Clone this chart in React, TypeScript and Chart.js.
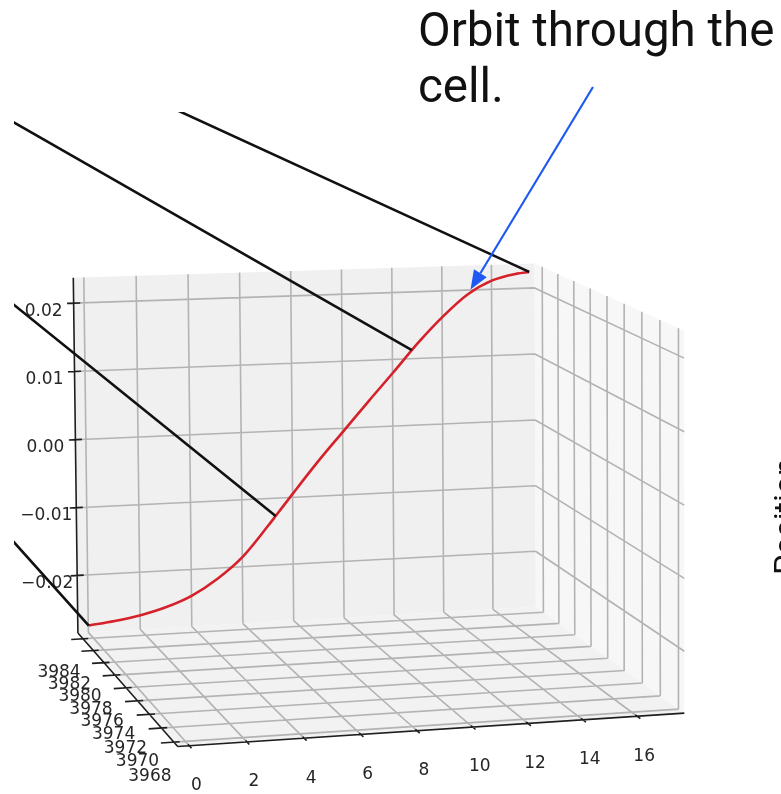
import React, { useEffect, useRef } from "react";
import { Chart, registerables } from "chart.js";

Chart.register(...registerables);

const CANVAS_W = 781;
const CANVAS_H = 794;

// ---------------- data ----------------
// orbit (red curve): x position along the cell, z displacement, at constant cell y
const orbitX = [0, 1, 2, 3, 4, 5, 6, 7, 7.3, 8, 9, 10, 11, 12, 12.75, 13, 14, 15, 16, 17, 17.5];
const orbitZ = [
  -0.0274, -0.02695, -0.0263, -0.0253, -0.0238, -0.0215, -0.0184, -0.014, -0.0126, -0.0093, -0.0047,
  -0.0004, 0.0039, 0.0081, 0.01135, 0.0124, 0.0162, 0.0194, 0.0214, 0.0223, 0.0225,
];
const orbitY = 3984.9;

// black connectors leave the orbit at these samples and run toward +y
const connectorIndex = [0, 8, 14, 20];
const connectorEndY = 4600;

// axes
const xTicks = [0, 2, 4, 6, 8, 10, 12, 14, 16];
const yTicks = [3968, 3970, 3972, 3974, 3976, 3978, 3980, 3982, 3984];
const zTicks = [-0.02, -0.01, 0, 0.01, 0.02];
const xTickLabels = ["0", "2", "4", "6", "8", "10", "12", "14", "16"];
const yTickLabels = ["3968", "3970", "3972", "3974", "3976", "3978", "3980", "3982", "3984"];
const zTickLabels = ["\u22120.02", "\u22120.01", "0.00", "0.01", "0.02"];

const xLim = [-0.4, 17.75];
const yLim = [3967.4, 3985.0];
const zLim = [-0.0285, 0.0237];

const titleLines = ["Orbit through the", "cell."];
const sideText = "Position";

// ---------------- view (camera calibration of the 3D box) ----------------
const [X0, X1] = xLim;
const [Y0, Y1] = yLim;
const [Z0, Z1] = zLim;
const viewAnchors: number[][] = [
  [X0, Y1, Z0, 78, 632],
  [X1, Y1, Z0, 535, 607],
  [X1, Y1, Z1, 536, 266],
  [X0, Y1, Z1, 73, 279],
  [X1, Y0, Z1, 684, 329],
  [X1, Y0, Z0, 684, 714],
  [X0, Y0, Z0, 178, 747],
  [0, Y1, 0.02, 84, 302],
  [16, Y1, 0.02, 491, 289],
  [0, Y0, Z0, 190, 746],
  [16, Y0, Z0, 638, 717],
  [X1, Y0, 0.02, 684, 357],
  [X1, Y0, -0.02, 684, 650],
  [X0, Y1, -0.02, 77, 575],
  [X0, Y1, 0, 75, 440],
];
const yVanishing = [-758, -324];
const vanishWeight = 2;

const nx = (x: number) => (x - X0) / (X1 - X0);
const ny = (y: number) => (y - Y0) / (Y1 - Y0);
const nz = (z: number) => (z - Z0) / (Z1 - Z0);

function solveLinear(M: number[][], b: number[]): number[] {
  const n = b.length;
  const A = M.map((r, i) => [...r, b[i]]);
  for (let c = 0; c < n; c++) {
    let p = c;
    for (let r = c + 1; r < n; r++) if (Math.abs(A[r][c]) > Math.abs(A[p][c])) p = r;
    const tmp = A[c];
    A[c] = A[p];
    A[p] = tmp;
    for (let r = 0; r < n; r++) {
      if (r === c) continue;
      const f = A[r][c] / A[c][c];
      for (let k = c; k <= n; k++) A[r][k] -= f * A[c][k];
    }
  }
  return A.map((r, i) => r[n] / r[i]);
}

function fitCamera(): number[] {
  const S = 1000;
  const rows: number[][] = [];
  const rhs: number[] = [];
  for (const [x, y, z, px, py] of viewAnchors) {
    const u = nx(x), v = ny(y), w = nz(z);
    const X = px / S, Y = py / S;
    rows.push([u, v, w, 1, 0, 0, 0, 0, -X * u, -X * v, -X * w]);
    rhs.push(X);
    rows.push([0, 0, 0, 0, u, v, w, 1, -Y * u, -Y * v, -Y * w]);
    rhs.push(Y);
  }
  const k = vanishWeight;
  const vx = yVanishing[0] / S, vy = yVanishing[1] / S;
  rows.push([0, k, 0, 0, 0, 0, 0, 0, 0, -k * vx, 0]);
  rhs.push(0);
  rows.push([0, 0, 0, 0, 0, k, 0, 0, 0, -k * vy, 0]);
  rhs.push(0);
  const n = 11;
  const M = Array.from({ length: n }, () => new Array(n).fill(0));
  const b = new Array(n).fill(0);
  rows.forEach((r, i) => {
    for (let a = 0; a < n; a++) {
      b[a] += r[a] * rhs[i];
      for (let c = 0; c < n; c++) M[a][c] += r[a] * r[c];
    }
  });
  return solveLinear(M, b);
}

const CAM = fitCamera();

type Pt = { x: number; y: number };
function P(x: number, y: number, z: number): Pt {
  const u = nx(x), v = ny(y), w = nz(z);
  const p = CAM;
  const d = p[8] * u + p[9] * v + p[10] * w + 1;
  return {
    x: (1000 * (p[0] * u + p[1] * v + p[2] * w + p[3])) / d,
    y: (1000 * (p[4] * u + p[5] * v + p[6] * w + p[7])) / d,
  };
}

function joinSegments(list: Pt[][]): Pt[] {
  const out: Pt[] = [];
  list.forEach((s, i) => {
    if (i) out.push({ x: NaN, y: NaN });
    out.push(...s);
  });
  return out;
}

// grid segments
function gridSegments(): Pt[][] {
  const s: Pt[][] = [];
  // back wall (y = Y1)
  xTicks.forEach((x) => s.push([P(x, Y1, Z0), P(x, Y1, Z1)]));
  zTicks.forEach((z) => s.push([P(X0, Y1, z), P(X1, Y1, z)]));
  // right wall (x = X1)
  yTicks.forEach((y) => s.push([P(X1, y, Z0), P(X1, y, Z1)]));
  zTicks.forEach((z) => s.push([P(X1, Y0, z), P(X1, Y1, z)]));
  // floor (z = Z0)
  xTicks.forEach((x) => s.push([P(x, Y0, Z0), P(x, Y1, Z0)]));
  yTicks.forEach((y) => s.push([P(X0, y, Z0), P(X1, y, Z0)]));
  return s;
}

function axisSegments(): Pt[][] {
  const s: Pt[][] = [];
  s.push([P(X0, Y1, Z0), P(X0, Y1, Z1)]); // z axis
  s.push([P(X0, Y1, Z0), P(X0, Y0, Z0)]); // y axis
  s.push([P(X0, Y0, Z0), P(X1, Y0, Z0)]); // x axis
  zTicks.forEach((z) => s.push([P(X0 - 0.25, Y1, z), P(X0 + 0.25, Y1, z)]));
  yTicks.forEach((y) => s.push([P(X0 - 0.45, y, Z0), P(X0 + 0.2, y, Z0)]));
  xTicks.forEach((x) => s.push([P(x, Y0 - 0.35, Z0), P(x, Y0 + 0.2, Z0)]));
  return s;
}

const orbitPts = orbitX.map((x, i) => P(x, orbitY, orbitZ[i]));
const connectorSegs = connectorIndex.map((i) => [
  P(orbitX[i], orbitY, orbitZ[i]),
  P(orbitX[i], connectorEndY, orbitZ[i]),
]);

const CLIP_LEFT = 14;
const CLIP_TOP = 112;

const scenePlugin = {
  id: "scene3d",
  beforeDatasetsDraw(chart: any) {
    const ctx: CanvasRenderingContext2D = chart.ctx;
    const sx = chart.scales.x, sy = chart.scales.y;
    const px = (p: Pt) => [sx.getPixelForValue(p.x), sy.getPixelForValue(p.y)];
    const poly = (pts: Pt[], color: string) => {
      ctx.beginPath();
      pts.forEach((p, i) => {
        const [a, b] = px(p);
        if (i) ctx.lineTo(a, b);
        else ctx.moveTo(a, b);
      });
      ctx.closePath();
      ctx.fillStyle = color;
      ctx.fill();
    };
    ctx.save();
    poly([P(X0, Y1, Z0), P(X1, Y1, Z0), P(X1, Y1, Z1), P(X0, Y1, Z1)], "#f0f0f0");
    poly([P(X1, Y1, Z0), P(X1, Y0, Z0), P(X1, Y0, Z1), P(X1, Y1, Z1)], "#f7f7f7");
    poly([P(X0, Y0, Z0), P(X1, Y0, Z0), P(X1, Y1, Z0), P(X0, Y1, Z0)], "#f2f2f2");

    ctx.fillStyle = "#262626";
    ctx.font = '17px "DejaVu Sans"';
    ctx.textAlign = "center";
    ctx.textBaseline = "middle";
    xTicks.forEach((x, i) => {
      const [a, b] = px(P(x, Y0, Z0));
      ctx.fillText(xTickLabels[i], a + 7, b + 40);
    });
    yTicks.forEach((y, i) => {
      const [a, b] = px(P(X0, y, Z0));
      ctx.fillText(yTickLabels[i], a - 24, b + 34);
    });
    zTicks.forEach((z, i) => {
      const [a, b] = px(P(X0, Y1, z));
      ctx.fillText(zTickLabels[i], a - 30, b + 8);
    });
    ctx.restore();
  },
  afterDraw(chart: any) {
    const ctx: CanvasRenderingContext2D = chart.ctx;
    const sx = chart.scales.x, sy = chart.scales.y;
    ctx.save();
    // title annotation
    ctx.fillStyle = "#111";
    ctx.font = '47.5px Roboto';
    ctx.textAlign = "left";
    ctx.textBaseline = "alphabetic";
    ctx.fillText(titleLines[0], 418, 46);
    ctx.fillText(titleLines[1], 418, 102);

    // arrow from the text to the orbit
    const target = orbitPts[17];
    const tx = sx.getPixelForValue(target.x) + 3;
    const ty = sy.getPixelForValue(target.y) - 5;
    const fx = 593, fy = 87;
    const ang = Math.atan2(ty - fy, tx - fx);
    const headLen = 19, headHalf = 7.5;
    const bx = tx - headLen * Math.cos(ang), by = ty - headLen * Math.sin(ang);
    ctx.strokeStyle = "#1e5af2";
    ctx.fillStyle = "#1e5af2";
    ctx.lineWidth = 2.2;
    ctx.beginPath();
    ctx.moveTo(fx, fy);
    ctx.lineTo(bx, by);
    ctx.stroke();
    ctx.beginPath();
    ctx.moveTo(tx, ty);
    ctx.lineTo(bx + headHalf * Math.sin(ang), by - headHalf * Math.cos(ang));
    ctx.lineTo(bx - headHalf * Math.sin(ang), by + headHalf * Math.cos(ang));
    ctx.closePath();
    ctx.fill();

    // rotated side label, cut by the right edge
    ctx.translate(796, 575);
    ctx.rotate(-Math.PI / 2);
    ctx.fillStyle = "#111";
    ctx.font = '32px Roboto';
    ctx.textAlign = "left";
    ctx.textBaseline = "alphabetic";
    ctx.fillText(sideText, 0, 0);
    ctx.restore();
  },
};

export default function App() {
  const ref = useRef<HTMLCanvasElement>(null);
  useEffect(() => {
    const canvas = ref.current;
    if (!canvas) return;
    const chart = new Chart(canvas, {
      type: "scatter",
      data: {
        datasets: [
          {
            label: "grid",
            data: joinSegments(gridSegments()),
            showLine: true,
            borderColor: "#b3b3b3",
            borderWidth: 1.6,
            pointRadius: 0,
            order: 5,
          },
          {
            label: "axes",
            data: joinSegments(axisSegments()),
            showLine: true,
            borderColor: "#1e1e1e",
            borderWidth: 1.6,
            pointRadius: 0,
            order: 4,
          },
          {
            label: "orbit",
            data: orbitPts,
            showLine: true,
            borderColor: "#d6212b",
            borderWidth: 2.6,
            pointRadius: 0,
            cubicInterpolationMode: "monotone",
            order: 2,
          },
          {
            label: "connectors",
            data: joinSegments(connectorSegs),
            showLine: true,
            borderColor: "#111111",
            borderWidth: 2.6,
            pointRadius: 0,
            clip: 0,
            order: 1,
          },
        ] as any,
      },
      options: {
        animation: false,
        responsive: false,
        events: [],
        layout: { padding: { left: CLIP_LEFT, top: CLIP_TOP, right: 0, bottom: 0 } },
        plugins: { legend: { display: false }, tooltip: { enabled: false }, title: { display: false } },
        scales: {
          x: { type: "linear", min: CLIP_LEFT, max: CANVAS_W, bounds: "data", display: false },
          y: { type: "linear", min: CLIP_TOP, max: CANVAS_H, reverse: true, bounds: "data", display: false },
        },
      } as any,
      plugins: [scenePlugin],
    });
    return () => chart.destroy();
  }, []);
  return (
    <div style={{ position: "fixed", left: 0, top: 0, width: CANVAS_W, height: CANVAS_H, background: "#fff" }}>
      <canvas
        ref={ref}
        width={CANVAS_W}
        height={CANVAS_H}
        style={{ display: "block", width: CANVAS_W, height: CANVAS_H }}
      />
    </div>
  );
}
